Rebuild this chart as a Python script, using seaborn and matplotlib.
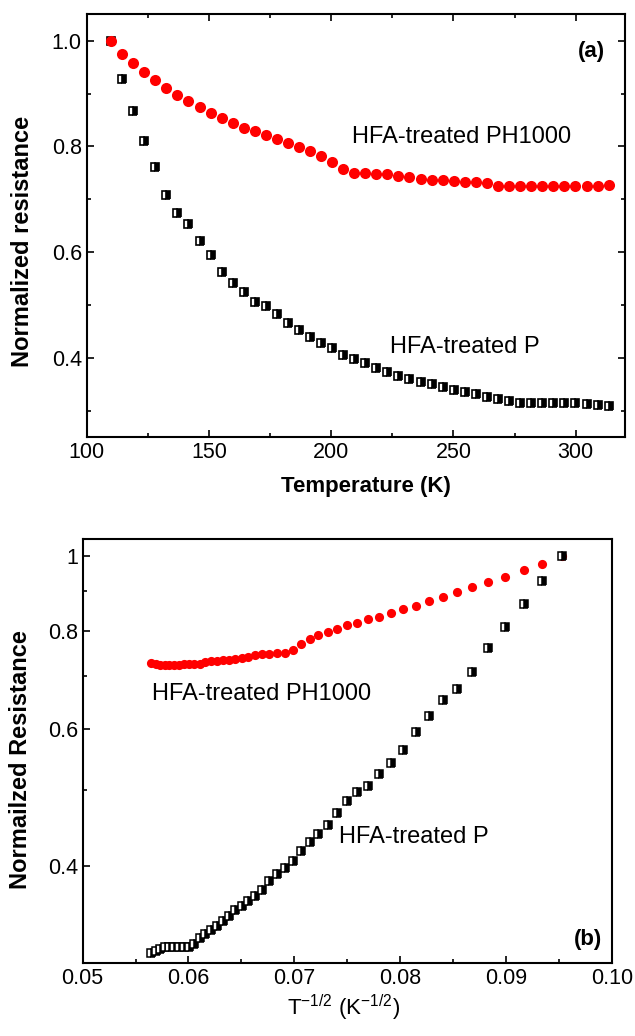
import numpy as np
import pandas as pd
import matplotlib
matplotlib.use("Agg")
import matplotlib.pyplot as plt
import matplotlib.ticker as mticker
import seaborn as sns

# =============================================================================
# DATA
# =============================================================================
temperature = [110.0, 114.5, 119.0, 123.6, 128.1, 132.6, 137.1, 141.6, 146.2, 150.7,
               155.2, 159.7, 164.2, 168.8, 173.3, 177.8, 182.3, 186.8, 191.4, 195.9,
               200.4, 204.9, 209.4, 214.0, 218.5, 223.0, 227.5, 232.0, 236.6, 241.1,
               245.6, 250.1, 254.6, 259.2, 263.7, 268.2, 272.7, 277.2, 281.8, 286.3,
               290.8, 295.3, 299.8, 304.4, 308.9, 313.4]

r_ph1000 = [1.000, 0.975, 0.958, 0.940, 0.925, 0.911, 0.898, 0.886, 0.874, 0.863,
            0.854, 0.845, 0.835, 0.829, 0.821, 0.814, 0.806, 0.799, 0.791, 0.782,
            0.771, 0.758, 0.750, 0.750, 0.748, 0.748, 0.745, 0.742, 0.739, 0.737,
            0.736, 0.734, 0.732, 0.733, 0.731, 0.726, 0.726, 0.726, 0.726, 0.725,
            0.725, 0.725, 0.725, 0.725, 0.726, 0.728]

r_p = [1.000, 0.928, 0.867, 0.811, 0.762, 0.709, 0.674, 0.653, 0.622, 0.594,
       0.563, 0.542, 0.524, 0.506, 0.498, 0.484, 0.467, 0.452, 0.440, 0.429,
       0.418, 0.406, 0.398, 0.390, 0.382, 0.373, 0.366, 0.361, 0.355, 0.351,
       0.345, 0.340, 0.335, 0.331, 0.327, 0.323, 0.318, 0.315, 0.315, 0.315,
       0.315, 0.315, 0.315, 0.313, 0.311, 0.309]

df = pd.DataFrame({"T": temperature, "PH1000": r_ph1000, "P": r_p})
df["Tinv"] = df["T"] ** -0.5   # x axis of panel (b): T^-1/2

# =============================================================================
# STYLE
# =============================================================================
sns.set_style("ticks")
plt.rcParams["font.family"] = ["Liberation Sans", "DejaVu Sans"]
plt.rcParams["mathtext.fontset"] = "custom"
plt.rcParams["mathtext.rm"] = "Liberation Sans"
plt.rcParams["axes.linewidth"] = 1.5
plt.rcParams["xtick.direction"] = "in"
plt.rcParams["ytick.direction"] = "in"
for key in ["text.color", "axes.labelcolor", "axes.edgecolor",
            "xtick.color", "ytick.color"]:
    plt.rcParams[key] = "black"

RED = "#ff0000"
TICK_FS = 15.5
TEXT_FS = 17

fig = plt.figure(figsize=(6.35, 10.36), dpi=100)
ax1 = fig.add_axes([0.1365, 0.5779, 0.8472, 0.4083])
ax2 = fig.add_axes([0.1302, 0.0702, 0.8331, 0.4093])

square_kws = dict(marker="s", fillstyle="right", markerfacecolor="black",
                  markerfacecoloralt="white", markeredgecolor="black",
                  linestyle="", color="black")

# =============================================================================
# (a) resistance vs temperature
# =============================================================================
sns.lineplot(data=df, x="T", y="P", ax=ax1, sort=False, estimator=None,
             markersize=6.3, markeredgewidth=1.2, **square_kws)
sns.lineplot(data=df, x="T", y="PH1000", ax=ax1, sort=False, estimator=None,
             marker="o", markersize=8, markeredgewidth=0, markeredgecolor=RED,
             linestyle="", color=RED)

ax1.set_xlim(100, 320)
ax1.set_ylim(0.25, 1.05)
ax1.xaxis.set_major_locator(mticker.MultipleLocator(50))
ax1.xaxis.set_minor_locator(mticker.MultipleLocator(25))
ax1.yaxis.set_major_locator(mticker.FixedLocator([0.4, 0.6, 0.8, 1.0]))
ax1.yaxis.set_major_formatter(mticker.FormatStrFormatter("%.1f"))
ax1.yaxis.set_minor_locator(mticker.FixedLocator([0.3, 0.5, 0.7, 0.9]))
ax1.tick_params(which="both", top=True, right=True, width=1.2, labelsize=TICK_FS)
ax1.tick_params(which="major", length=5)
ax1.tick_params(which="minor", length=3)

ax1.set_xlabel("Temperature (K)", fontsize=16, fontweight="bold")
ax1.set_ylabel("Normalized resistance", fontsize=17, fontweight="bold")
ax1.xaxis.set_label_coords(0.52, -0.1175)
ax1.xaxis.label.set_verticalalignment("center")
ax1.yaxis.set_label_coords(-0.12, 0.463)
ax1.yaxis.label.set_verticalalignment("center")

ax1.text(0.493, 0.696, "HFA-treated PH1000", transform=ax1.transAxes,
         fontsize=TEXT_FS, ha="left", va="baseline")
ax1.text(0.564, 0.199, "HFA-treated P", transform=ax1.transAxes,
         fontsize=TEXT_FS, ha="left", va="baseline")
ax1.text(0.939, 0.911, "(a)", transform=ax1.transAxes, fontsize=16,
         fontweight="bold", ha="center", va="center")

# =============================================================================
# (b) resistance vs T^-1/2 (log scale)
# =============================================================================
sns.lineplot(data=df, x="Tinv", y="PH1000", ax=ax2, sort=False, estimator=None,
             marker="o", markersize=6.6, markeredgewidth=0, markeredgecolor=RED,
             linestyle="", color=RED)
sns.lineplot(data=df, x="Tinv", y="P", ax=ax2, sort=False, estimator=None,
             markersize=5.6, markeredgewidth=1.1, **square_kws)

ax2.set_yscale("log")
ax2.set_xlim(0.05, 0.10)
ax2.set_ylim(0.30, 1.05)
ax2.xaxis.set_major_locator(mticker.MultipleLocator(0.01))
ax2.xaxis.set_major_formatter(mticker.FormatStrFormatter("%.2f"))
ax2.xaxis.set_minor_locator(mticker.MultipleLocator(0.005))
ax2.yaxis.set_major_locator(mticker.FixedLocator([0.4, 0.6, 0.8, 1.0]))
ax2.yaxis.set_major_formatter(mticker.FixedFormatter(["0.4", "0.6", "0.8", "1"]))
ax2.yaxis.set_minor_locator(mticker.FixedLocator([0.3, 0.5, 0.7, 0.9]))
ax2.yaxis.set_minor_formatter(mticker.NullFormatter())
ax2.tick_params(which="both", top=False, right=False, width=1.2, labelsize=TICK_FS)
ax2.tick_params(which="major", length=5)
ax2.tick_params(which="minor", length=3)

ax2.set_xlabel(r"T$^{\mathregular{-1/2}}$ (K$^{\mathregular{-1/2}}$)", fontsize=16)
ax2.set_ylabel("Normailzed Resistance", fontsize=17, fontweight="bold")
ax2.xaxis.set_label_coords(0.494, -0.105)
ax2.xaxis.label.set_verticalalignment("center")
ax2.yaxis.set_label_coords(-0.117, 0.481)
ax2.yaxis.label.set_verticalalignment("center")

ax2.text(0.1316, 0.621, "HFA-treated PH1000", transform=ax2.transAxes,
         fontsize=TEXT_FS, ha="left", va="baseline")
ax2.text(0.484, 0.283, "HFA-treated P", transform=ax2.transAxes,
         fontsize=TEXT_FS, ha="left", va="baseline")
ax2.text(0.955, 0.057, "(b)", transform=ax2.transAxes, fontsize=16,
         fontweight="bold", ha="center", va="center")

fig.savefig("out.png", dpi=100)
